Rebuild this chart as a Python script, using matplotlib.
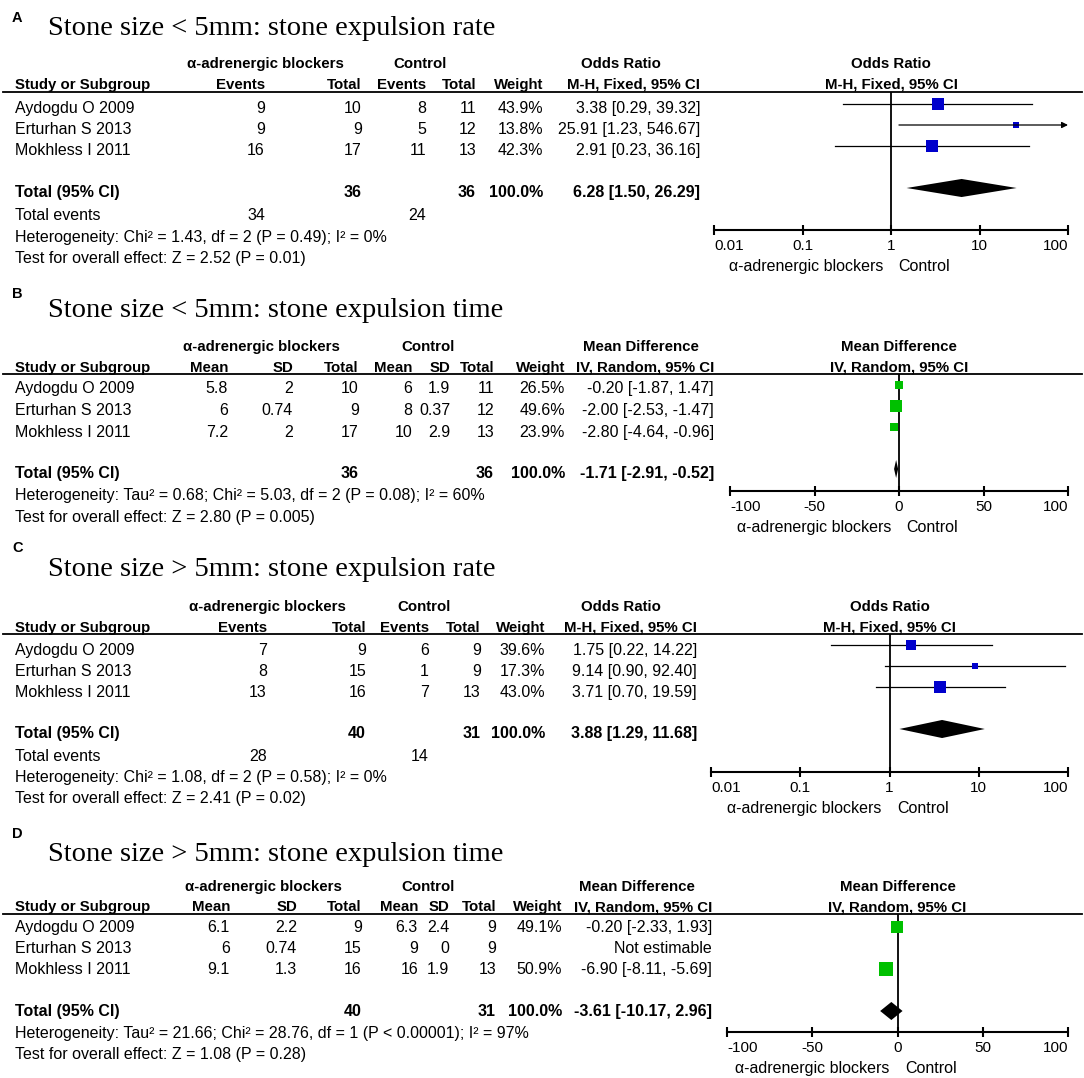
import matplotlib
matplotlib.use("Agg")
import matplotlib.pyplot as plt
from matplotlib.lines import Line2D

W, H = 1084, 1078
SANS = ["Liberation Sans", "DejaVu Sans"]
SERIF = ["Liberation Serif", "DejaVu Serif"]
FS = 11.5
HFS = 10.8  # header rows look a bit smaller
ROW = 21.0  # pixel distance between study rows
BLUE = "#0000cc"
GREEN = "#00c000"

studies = ["Aydogdu O 2009", "Erturhan S 2013", "Mokhless I 2011"]

# A: stone size < 5mm, expulsion rate (odds ratio)
a_exp_events = [9, 9, 16]
a_exp_total = [10, 9, 17]
a_ctl_events = [8, 5, 11]
a_ctl_total = [11, 12, 13]
a_weight = [43.9, 13.8, 42.3]
a_est = [3.38, 25.91, 2.91]
a_lo = [0.29, 1.23, 0.23]
a_hi = [39.32, 546.67, 36.16]
a_pooled = [6.28, 1.50, 26.29]
a_totals = [36, 36]
a_total_events = [34, 24]
a_stats = ["Heterogeneity: Chi² = 1.43, df = 2 (P = 0.49); I² = 0%",
           "Test for overall effect: Z = 2.52 (P = 0.01)"]

# B: stone size < 5mm, expulsion time (mean difference)
b_exp_mean = [5.8, 6, 7.2]
b_exp_sd = [2, 0.74, 2]
b_exp_n = [10, 9, 17]
b_ctl_mean = [6, 8, 10]
b_ctl_sd = [1.9, 0.37, 2.9]
b_ctl_n = [11, 12, 13]
b_weight = [26.5, 49.6, 23.9]
b_est = [-0.20, -2.00, -2.80]
b_lo = [-1.87, -2.53, -4.64]
b_hi = [1.47, -1.47, -0.96]
b_pooled = [-1.71, -2.91, -0.52]
b_totals = [36, 36]
b_stats = ["Heterogeneity: Tau² = 0.68; Chi² = 5.03, df = 2 (P = 0.08); I² = 60%",
           "Test for overall effect: Z = 2.80 (P = 0.005)"]

# C: stone size > 5mm, expulsion rate (odds ratio)
c_exp_events = [7, 8, 13]
c_exp_total = [9, 15, 16]
c_ctl_events = [6, 1, 7]
c_ctl_total = [9, 9, 13]
c_weight = [39.6, 17.3, 43.0]
c_est = [1.75, 9.14, 3.71]
c_lo = [0.22, 0.90, 0.70]
c_hi = [14.22, 92.40, 19.59]
c_pooled = [3.88, 1.29, 11.68]
c_totals = [40, 31]
c_total_events = [28, 14]
c_stats = ["Heterogeneity: Chi² = 1.08, df = 2 (P = 0.58); I² = 0%",
           "Test for overall effect: Z = 2.41 (P = 0.02)"]

# D: stone size > 5mm, expulsion time (mean difference)
d_exp_mean = [6.1, 6, 9.1]
d_exp_sd = [2.2, 0.74, 1.3]
d_exp_n = [9, 15, 16]
d_ctl_mean = [6.3, 9, 16]
d_ctl_sd = [2.4, 0, 1.9]
d_ctl_n = [9, 9, 13]
d_weight = [49.1, None, 50.9]
d_est = [-0.20, None, -6.90]
d_lo = [-2.33, None, -8.11]
d_hi = [1.93, None, -5.69]
d_pooled = [-3.61, -10.17, 2.96]
d_totals = [40, 31]
d_stats = ["Heterogeneity: Tau² = 21.66; Chi² = 28.76, df = 1 (P < 0.00001); I² = 97%",
           "Test for overall effect: Z = 1.08 (P = 0.28)"]

or_ticks = [0.01, 0.1, 1, 10, 100]
or_ticklabels = ["0.01", "0.1", "1", "10", "100"]
md_ticks = [-100, -50, 0, 50, 100]
md_ticklabels = ["-100", "-50", "0", "50", "100"]

fig = plt.figure(figsize=(W / 100, H / 100), dpi=100)


def put(x, y, s, ha="left", bold=False, size=FS, family=SANS):
    fig.text(x / W, 1 - y / H, s, ha=ha, va="baseline", fontsize=size,
             fontweight="bold" if bold else "normal", family=family)


def ci(e, lo, hi):
    return f"{e:.2f} [{lo:.2f}, {hi:.2f}]"


def forest(lay, est, lo, hi, weight, pooled, color, log):
    x0, x1 = lay["ax_x"]
    yl, ya, y0 = lay["line"], lay["axis"], lay["row0"]
    ax = fig.add_axes([x0 / W, 1 - ya / H, (x1 - x0) / W, (ya - yl) / H])
    ax.patch.set_alpha(0)
    if log:
        ax.set_xscale("log")
        ticks, labels, null = or_ticks, or_ticklabels, 1
    else:
        ticks, labels, null = md_ticks, md_ticklabels, 0
    ax.set_xlim(ticks[0], ticks[-1])
    ax.set_ylim((ya - y0) / ROW, (yl - y0) / ROW)
    for s in ["left", "right", "top"]:
        ax.spines[s].set_visible(False)
    ax.spines["bottom"].set_linewidth(1.5)
    ax.set_yticks([])
    ax.set_xticks(ticks)
    ax.set_xticks([], minor=True)
    ax.set_xticklabels(labels, fontsize=11, family=SANS)
    ax.tick_params(axis="x", direction="inout", length=7, width=1.5, pad=3)
    tl = ax.get_xticklabels()
    tl[0].set_ha("left")
    tl[-1].set_ha("right")
    ax.axvline(null, color="black", lw=1.3)
    xmax = ax.get_xlim()[1]
    for i in range(len(est)):
        if est[i] is None:
            continue
        if hi[i] > xmax:
            ax.annotate("", xy=(xmax, i), xytext=(lo[i], i),
                        arrowprops=dict(arrowstyle="-|>", color="black", lw=0.9,
                                        mutation_scale=9, shrinkA=0, shrinkB=0))
        else:
            ax.plot([lo[i], hi[i]], [i, i], color="black", lw=0.9)
        side = 3 + 0.2 * weight[i]
        ax.plot(est[i], i, "s", color=color, markersize=side * 0.72, markeredgewidth=0)
    e, l, h = pooled
    r = 4
    ax.fill([l, e, h, e], [r, r - 0.43, r, r + 0.43], color="black", lw=0)
    ax.annotate("α-adrenergic blockers", xy=(null, 0), xycoords=("data", "axes fraction"),
                xytext=(-5.5, -29.5), textcoords="offset points", ha="right", va="baseline",
                fontsize=FS, family=SANS)
    ax.annotate("Control", xy=(null, 0), xycoords=("data", "axes fraction"),
                xytext=(5.5, -29.5), textcoords="offset points", ha="left", va="baseline",
                fontsize=FS, family=SANS)
    return (x0 + x1) / 2


def panel_top(lay, hdr1, hdr2):
    put(12, lay["letter"], lay["tag"], bold=True, size=10.5)
    put(48, lay["title"], lay["text"], size=20.5, family=SERIF)
    fig.add_artist(Line2D([3 / W, 1082 / W], [1 - lay["line"] / H] * 2, color="black", lw=1.3))
    for s, x, ha in hdr1:
        put(x, lay["h1"], s, ha=ha, bold=True, size=HFS)
    for s, x, ha in hdr2:
        put(x, lay["h2"], s, ha=ha, bold=True, size=HFS)


def or_panel(lay, col, ev_e, n_e, ev_c, n_c, weight, est, lo, hi, pooled, totals, tev, stats):
    fc = forest(lay, est, lo, hi, weight, pooled, BLUE, True)
    panel_top(lay,
              [("α-adrenergic blockers", col["grp_e"], "center"), ("Control", col["grp_c"], "center"),
               ("Odds Ratio", col["hdr"], "center"), ("Odds Ratio", fc, "center")],
              [("Study or Subgroup", 15, "left"), ("Events", col["e1"], "right"),
               ("Total", col["e2"], "right"), ("Events", col["c1"], "right"),
               ("Total", col["c2"], "right"), ("Weight", col["w"], "right"),
               ("M-H, Fixed, 95% CI", col["est"], "right"), ("M-H, Fixed, 95% CI", fc, "center")])
    for i, y in enumerate(lay["rows"]):
        put(15, y, studies[i])
        put(col["e1"], y, str(ev_e[i]), ha="right")
        put(col["e2"], y, str(n_e[i]), ha="right")
        put(col["c1"], y, str(ev_c[i]), ha="right")
        put(col["c2"], y, str(n_c[i]), ha="right")
        put(col["w"], y, f"{weight[i]:.1f}%", ha="right")
        put(col["est"], y, ci(est[i], lo[i], hi[i]), ha="right")
    y = lay["total"]
    put(15, y, "Total (95% CI)", bold=True)
    put(col["e2"], y, str(totals[0]), ha="right", bold=True)
    put(col["c2"], y, str(totals[1]), ha="right", bold=True)
    put(col["w"], y, "100.0%", ha="right", bold=True)
    put(col["est"], y, ci(*pooled), ha="right", bold=True)
    put(15, lay["events"], "Total events")
    put(col["e1"], lay["events"], str(tev[0]), ha="right")
    put(col["c1"], lay["events"], str(tev[1]), ha="right")
    for s, y in zip(stats, lay["stats"]):
        put(15, y, s)


def md_panel(lay, col, m_e, sd_e, n_e, m_c, sd_c, n_c, weight, est, lo, hi, pooled, totals, stats):
    fc = forest(lay, est, lo, hi, weight, pooled, GREEN, False)
    panel_top(lay,
              [("α-adrenergic blockers", col["grp_e"], "center"), ("Control", col["grp_c"], "center"),
               ("Mean Difference", col["hdr"], "center"), ("Mean Difference", fc, "center")],
              [("Study or Subgroup", 15, "left"), ("Mean", col["m_e"], "right"),
               ("SD", col["sd_e"], "right"), ("Total", col["n_e"], "right"),
               ("Mean", col["m_c"], "right"), ("SD", col["sd_c"], "right"),
               ("Total", col["n_c"], "right"), ("Weight", col["w"], "right"),
               ("IV, Random, 95% CI", col["est"], "right"), ("IV, Random, 95% CI", fc, "center")])
    for i, y in enumerate(lay["rows"]):
        put(15, y, studies[i])
        put(col["m_e"], y, f"{m_e[i]:g}", ha="right")
        put(col["sd_e"], y, f"{sd_e[i]:g}", ha="right")
        put(col["n_e"], y, str(n_e[i]), ha="right")
        put(col["m_c"], y, f"{m_c[i]:g}", ha="right")
        put(col["sd_c"], y, f"{sd_c[i]:g}", ha="right")
        put(col["n_c"], y, str(n_c[i]), ha="right")
        if est[i] is None:
            put(col["est"], y, "Not estimable", ha="right")
        else:
            put(col["w"], y, f"{weight[i]:.1f}%", ha="right")
            put(col["est"], y, ci(est[i], lo[i], hi[i]), ha="right")
    y = lay["total"]
    put(15, y, "Total (95% CI)", bold=True)
    put(col["n_e"], y, str(totals[0]), ha="right", bold=True)
    put(col["n_c"], y, str(totals[1]), ha="right", bold=True)
    put(col["w"], y, "100.0%", ha="right", bold=True)
    put(col["est"], y, ci(*pooled), ha="right", bold=True)
    for s, y in zip(stats, lay["stats"]):
        put(15, y, s)


lay_a = dict(tag="A", text="Stone size < 5mm: stone expulsion rate", letter=22, title=35,
             h1=68, h2=89, line=92, rows=[113, 134, 155], total=197, events=220,
             stats=[242, 263], row0=104, axis=230, ax_x=(714, 1068))
col_a = dict(grp_e=265, grp_c=420, e1=265, e2=362, c1=426, c2=476, w=543, est=700, hdr=621)

lay_b = dict(tag="B", text="Stone size < 5mm: stone expulsion time", letter=298, title=317,
             h1=351, h2=372, line=374, rows=[393, 415, 437], total=478,
             stats=[500, 522], row0=385, axis=491, ax_x=(730, 1068))
col_b = dict(grp_e=261, grp_c=428, m_e=228, sd_e=293, n_e=359, m_c=412, sd_c=450, n_c=494,
             w=565, est=714, hdr=641)

lay_c = dict(tag="C", text="Stone size > 5mm: stone expulsion rate", letter=552, title=576,
             h1=611, h2=632, line=634, rows=[655, 676, 697], total=738, events=761,
             stats=[782, 803], row0=645, axis=772, ax_x=(711, 1068))
col_c = dict(grp_e=267, grp_c=424, e1=267, e2=366, c1=429, c2=481, w=545, est=697, hdr=621)

lay_d = dict(tag="D", text="Stone size > 5mm: stone expulsion time", letter=838, title=861,
             h1=891, h2=911, line=914, rows=[932, 953, 974], total=1016,
             stats=[1038, 1059], row0=927, axis=1032, ax_x=(727, 1068))
col_d = dict(grp_e=263, grp_c=428, m_e=230, sd_e=297, n_e=362, m_c=418, sd_c=449, n_c=496,
             w=562, est=712, hdr=637)

or_panel(lay_a, col_a, a_exp_events, a_exp_total, a_ctl_events, a_ctl_total, a_weight,
         a_est, a_lo, a_hi, a_pooled, a_totals, a_total_events, a_stats)
md_panel(lay_b, col_b, b_exp_mean, b_exp_sd, b_exp_n, b_ctl_mean, b_ctl_sd, b_ctl_n, b_weight,
         b_est, b_lo, b_hi, b_pooled, b_totals, b_stats)
or_panel(lay_c, col_c, c_exp_events, c_exp_total, c_ctl_events, c_ctl_total, c_weight,
         c_est, c_lo, c_hi, c_pooled, c_totals, c_total_events, c_stats)
md_panel(lay_d, col_d, d_exp_mean, d_exp_sd, d_exp_n, d_ctl_mean, d_ctl_sd, d_ctl_n, d_weight,
         d_est, d_lo, d_hi, d_pooled, d_totals, d_stats)

fig.savefig("out.png", dpi=100)
